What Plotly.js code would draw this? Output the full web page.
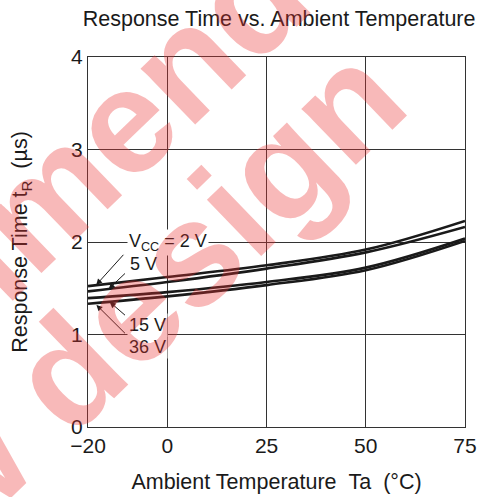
<!DOCTYPE html>
<html>
<head>
<meta charset="utf-8">
<script src="https://cdn.plot.ly/plotly-3.0.1.min.js"></script>
<style>html,body{margin:0;padding:0;background:#fff;}#chart{width:482px;height:497px;}</style>
</head>
<body>
<div id="chart"></div>
<script>
// Data
const temperature = [-20, 0, 25, 50, 75];
const vcc2V  = [1.523, 1.621, 1.748, 1.918, 2.228];
const vcc5V  = [1.466, 1.567, 1.712, 1.888, 2.163];
const vcc15V = [1.393, 1.458, 1.567, 1.723, 2.037];
const vcc36V = [1.333, 1.412, 1.534, 1.694, 2.011];
const seriesNames = ['VCC = 2 V', '5 V', '15 V', '36 V'];
const xTicks = [-20, 0, 25, 50, 75];
const yTicks = [0, 1, 2, 3, 4];

const FONT = 'Liberation Sans, Arial, Helvetica, sans-serif';
const INK = '#1a1a1a';

const traces = [vcc2V, vcc5V, vcc15V, vcc36V].map((ys, i) => ({
  x: temperature, y: ys, name: seriesNames[i], type: 'scatter', mode: 'lines',
  line: {color: INK, width: 2.6, shape: 'spline', smoothing: 1},
  hoverinfo: 'skip'
}));

const labelFont = {family: FONT, size: 18, color: INK};
const arrowBase = {showarrow: true, axref: 'x', ayref: 'y', xref: 'x', yref: 'y',
  arrowhead: 2, arrowsize: 1.2, arrowwidth: 1, arrowcolor: INK, standoff: 0, startstandoff: 0, text: ''};
const wmFont = {family: FONT, size: 148, color: 'rgba(235,50,50,0.34)'};

const annotations = [
  {xref:'x', yref:'y', x: -10.2, y: 2.0, xanchor:'left', yanchor:'middle', showarrow:false,
   text: 'V<sub>CC</sub> = 2 V', font: labelFont, bgcolor:'#fff', borderpad: 1},
  {xref:'x', yref:'y', x: -10.0, y: 1.766, xanchor:'left', yanchor:'middle', showarrow:false,
   text: '5 V', font: labelFont},
  {xref:'x', yref:'y', x: -10.2, y: 1.098, xanchor:'left', yanchor:'middle', showarrow:false,
   text: '15 V', font: labelFont, bgcolor:'#fff', borderpad: 1},
  {xref:'x', yref:'y', x: -10.2, y: 0.862, xanchor:'left', yanchor:'middle', showarrow:false,
   text: '36 V', font: labelFont, bgcolor:'#fff', borderpad: 1},
  Object.assign({}, arrowBase, {x: -17.93, y: 1.536, ax: -10.74, ay: 1.878}),
  Object.assign({}, arrowBase, {x: -14.78, y: 1.493, ax: -10.3, ay: 1.675}),
  Object.assign({}, arrowBase, {x: -14.53, y: 1.352, ax: -10.3, ay: 1.195}),
  Object.assign({}, arrowBase, {x: -17.88, y: 1.32, ax: -10.3, ay: 0.997}),
  // watermark
  {xref:'paper', yref:'paper', x: -0.396, y: 0.343, xanchor:'center', yanchor:'middle', showarrow:false, textangle: -44,
   text: '<b>Not recommended</b>', font: wmFont},
  {xref:'paper', yref:'paper', x: -0.227, y: -0.021, xanchor:'center', yanchor:'middle', showarrow:false, textangle: -44,
   text: '<b>for new design</b>', font: wmFont}
];

const layout = {
  width: 482, height: 497,
  margin: {l: 88, r: 17, t: 57, b: 70, pad: 0},
  paper_bgcolor: '#fff', plot_bgcolor: '#fff',
  showlegend: false,
  font: {family: FONT, color: INK, size: 21},
  title: {text: 'Response Time vs. Ambient Temperature', font: {family: FONT, size: 21.5, color: INK},
          xref: 'container', yref: 'container', x: 0.579, y: 1 - 18/497, xanchor: 'center', yanchor: 'middle'},
  xaxis: {
    range: [-20, 75], tickmode: 'array', tickvals: xTicks, ticktext: xTicks.map(v => v < 0 ? '\u2212' + Math.abs(v) : String(v)),
    showgrid: true, gridcolor: '#333', gridwidth: 1, zeroline: false,
    showline: true, linecolor: '#333', linewidth: 1, mirror: true,
    ticks: '', tickfont: {family: FONT, size: 21, color: INK},
    title: {text: 'Ambient Temperature\u00a0\u00a0Ta\u00a0\u00a0(\u00b0C)', font: {family: FONT, size: 21.5, color: INK}, standoff: 17},
    automargin: false, fixedrange: true
  },
  yaxis: {
    range: [0, 4], tickmode: 'array', tickvals: yTicks,
    showgrid: true, gridcolor: '#333', gridwidth: 1, zeroline: false,
    showline: true, linecolor: '#333', linewidth: 1, mirror: true,
    ticks: '', tickfont: {family: FONT, size: 21, color: INK},
    title: {text: 'Response Time t<sub>R</sub>\u00a0\u00a0(\u00b5s)', font: {family: FONT, size: 21.5, color: INK}, standoff: 37},
    automargin: false, fixedrange: true
  },
  annotations: annotations
};

Plotly.newPlot('chart', traces, layout, {staticPlot: true, displayModeBar: false});
</script>
</body>
</html>
